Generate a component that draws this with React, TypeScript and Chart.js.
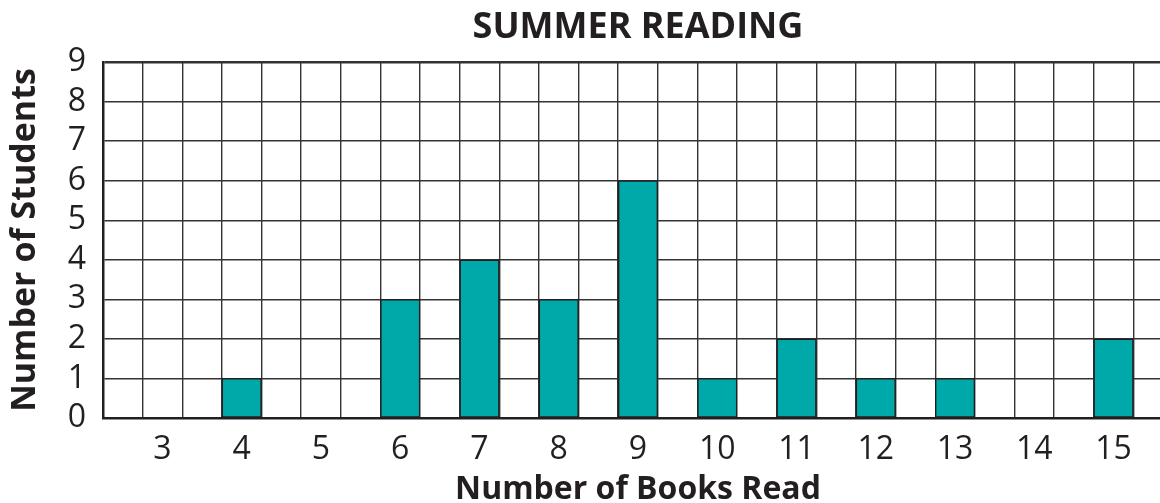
import React, { useEffect, useRef } from "react";
import { Chart, registerables } from "chart.js";

Chart.register(...registerables);

const books = [3, 4, 5, 6, 7, 8, 9, 10, 11, 12, 13, 14, 15];
const students = [0, 1, 0, 3, 4, 3, 6, 1, 2, 1, 1, 0, 2];
const yTicks = [0, 1, 2, 3, 4, 5, 6, 7, 8, 9];
const chartTitle = "SUMMER READING";
const xTitle = "Number of Books Read";
const yTitle = "Number of Students";

const FONT = "'Open Sans', 'Noto Sans', sans-serif";
const INK = "#231f20";
const GRID = "#333333";
const TEAL = "#00a9a9";

export default function App() {
  const ref = useRef<HTMLCanvasElement | null>(null);

  useEffect(() => {
    document.body.style.margin = "0";
    const canvas = ref.current;
    if (!canvas) return;

    // Each book count occupies one grid column, separated by an empty column.
    const labels: string[] = [];
    const values: (number | null)[] = [];
    books.forEach((b, i) => {
      labels.push("");
      values.push(null);
      labels.push(String(b));
      values.push(students[i] > 0 ? students[i] : null);
    });
    labels.push("");
    values.push(null);

    const chart = new Chart(canvas, {
      type: "bar",
      data: {
        labels,
        datasets: [
          {
            data: values,
            backgroundColor: TEAL,
            borderColor: INK,
            borderWidth: 1.5,
            borderSkipped: false,
            barPercentage: 1,
            categoryPercentage: 1,
          },
        ],
      },
      options: {
        responsive: false,
        animation: false,
        layout: { padding: 0 },
        plugins: {
          legend: { display: false },
          tooltip: { enabled: false },
          title: {
            display: true,
            text: chartTitle,
            fullSize: false,
            color: INK,
            font: { family: FONT, size: 36, weight: "bold", lineHeight: 1 },
            padding: { top: 10, bottom: 16 },
          },
        },
        scales: {
          x: {
            type: "category",
            offset: true,
            z: 1,
            grid: {
              offset: true,
              color: GRID,
              lineWidth: 1.4,
              drawTicks: false,
            },
            border: { display: true, color: INK, width: 2.5 },
            ticks: {
              autoSkip: false,
              maxRotation: 0,
              minRotation: 0,
              color: INK,
              padding: 13,
              font: { family: FONT, size: 32 },
            },
            title: {
              display: true,
              text: xTitle,
              color: INK,
              font: { family: FONT, size: 32, weight: "bold", lineHeight: 0.85 },
              padding: 0,
            },
            afterFit: (scale: any) => {
              scale.height = 85;
            },
          },
          y: {
            min: 0,
            max: 9,
            afterBuildTicks: (scale: any) => {
              scale.ticks = yTicks.map((v) => ({ value: v }));
            },
            grid: {
              color: GRID,
              lineWidth: (ctx: any) => (ctx.index === yTicks.length - 1 ? 2.5 : 1.4),
              drawTicks: false,
            },
            border: { display: true, color: INK, width: 2.5 },
            ticks: {
              autoSkip: false,
              stepSize: 1,
              color: INK,
              padding: 17,
              font: { family: FONT, size: 32 },
            },
            title: {
              display: true,
              text: yTitle,
              color: INK,
              font: { family: FONT, size: 34, weight: "bold", lineHeight: 1 },
              padding: { top: 8, bottom: 0 },
            },
            afterFit: (scale: any) => {
              scale.width = 103;
            },
          },
        },
      },
    });

    return () => chart.destroy();
  }, []);

  return (
    <div style={{ width: 1160, height: 503, overflow: "hidden", position: "relative", background: "#fff" }}>
      <canvas ref={ref} width={1173} height={503} style={{ display: "block" }} />
    </div>
  );
}
